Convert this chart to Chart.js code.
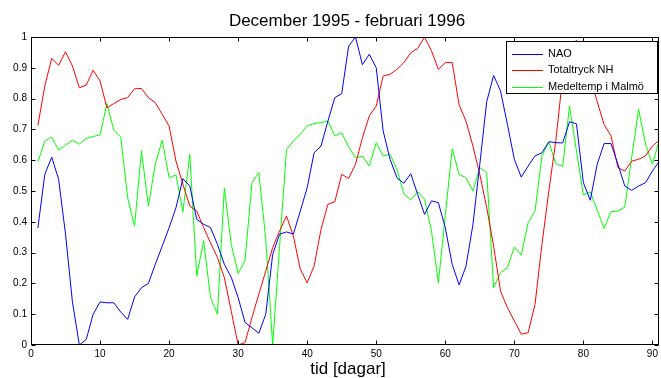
<!DOCTYPE html>
<html>
<head>
<meta charset="utf-8">
<script src="https://cdn.jsdelivr.net/npm/chart.js@4.4.1/dist/chart.umd.min.js"></script>
<style>
html, body { margin: 0; padding: 0; background: #fff; }
</style>
</head>
<body>
<canvas id="myChart" width="661" height="378"></canvas>
<script>
// dag 1..91 (dec 1995 - feb 1996)
const days = Array.from({ length: 91 }, (_, i) => i + 1);

const nao = [
  0.38, 0.554, 0.61, 0.538, 0.36, 0.14, 0.0, 0.018, 0.10, 0.14,
  0.137, 0.137, 0.107, 0.083, 0.156, 0.186, 0.2, 0.262, 0.321, 0.381,
  0.446, 0.54, 0.516, 0.408, 0.392, 0.381, 0.327, 0.262, 0.22, 0.154,
  0.073, 0.056, 0.038, 0.1, 0.294, 0.36, 0.367, 0.36, 0.435, 0.511,
  0.624, 0.646, 0.727, 0.803, 0.816, 0.97, 1.0, 0.91, 0.944, 0.9,
  0.695, 0.603, 0.543, 0.525, 0.556, 0.489, 0.424, 0.468, 0.462, 0.381,
  0.262, 0.195, 0.256, 0.39, 0.587, 0.79, 0.875, 0.825, 0.716, 0.603,
  0.545, 0.581, 0.614, 0.624, 0.66, 0.657, 0.656, 0.725, 0.718, 0.527,
  0.47, 0.587, 0.654, 0.654, 0.587, 0.516, 0.502, 0.516, 0.527, 0.565,
  0.597
];

const totaltryck = [
  0.713, 0.841, 0.931, 0.908, 0.952, 0.906, 0.835, 0.844, 0.892, 0.857,
  0.77, 0.784, 0.797, 0.803, 0.832, 0.833, 0.803, 0.787, 0.749, 0.711,
  0.597, 0.522, 0.451, 0.435, 0.381, 0.332, 0.284, 0.219, 0.11, 0.0,
  0.008, 0.089, 0.165, 0.24, 0.316, 0.37, 0.419, 0.354, 0.246, 0.202,
  0.256, 0.375, 0.457, 0.465, 0.554, 0.541, 0.587, 0.673, 0.744, 0.776,
  0.873, 0.879, 0.895, 0.917, 0.949, 0.963, 1.0, 0.955, 0.895, 0.917,
  0.917, 0.78, 0.727, 0.646, 0.554, 0.446, 0.321, 0.175, 0.121, 0.078,
  0.035, 0.04, 0.132, 0.327, 0.5, 0.662, 0.87, 0.96, 0.99, 0.93,
  0.87, 0.79, 0.716, 0.679, 0.576, 0.565, 0.597, 0.603, 0.614, 0.646,
  0.665
];

const medeltemp = [
  0.595, 0.662, 0.675, 0.633, 0.649, 0.665, 0.652, 0.671, 0.677, 0.682,
  0.784, 0.697, 0.675, 0.478, 0.386, 0.63, 0.451, 0.587, 0.665, 0.543,
  0.552, 0.432, 0.619, 0.224, 0.338, 0.154, 0.1, 0.509, 0.327, 0.232,
  0.275, 0.527, 0.56, 0.343, 0.0, 0.32, 0.634, 0.662, 0.684, 0.711,
  0.719, 0.722, 0.727, 0.679, 0.689, 0.643, 0.608, 0.613, 0.581, 0.657,
  0.614, 0.619, 0.57, 0.491, 0.471, 0.498, 0.473, 0.37, 0.202, 0.42,
  0.637, 0.554, 0.543, 0.5, 0.576, 0.56, 0.186, 0.235, 0.251, 0.318,
  0.292, 0.397, 0.435, 0.614, 0.659, 0.589, 0.58, 0.776, 0.63, 0.487,
  0.497, 0.438, 0.379, 0.433, 0.435, 0.448, 0.61, 0.765, 0.652, 0.587,
  0.665
];

const xTicks = [0, 10, 20, 30, 40, 50, 60, 70, 80, 90];
const yTicks = [0, 0.1, 0.2, 0.3, 0.4, 0.5, 0.6, 0.7, 0.8, 0.9, 1];

const FONT = '"Liberation Sans", Arial, sans-serif';

// matlab-ish frame, inward ticks, title, xlabel and legend box
const matlabAxes = {
  id: 'matlabAxes',
  afterDatasetsDraw(chart) {
    const ctx = chart.ctx;
    const a = chart.chartArea;
    const xs = chart.scales.x, ys = chart.scales.y;
    const L = Math.round(a.left) + 0.5, R = Math.round(a.right) - 0.5;
    const T = Math.round(a.top) + 0.5, B = Math.round(a.bottom) - 0.5;
    ctx.save();
    ctx.strokeStyle = '#000';
    ctx.lineWidth = 1;
    ctx.strokeRect(L, T, R - L, B - T);

    ctx.beginPath();
    xTicks.forEach(v => {
      const px = Math.round(xs.getPixelForValue(v)) + 0.5;
      ctx.moveTo(px, B); ctx.lineTo(px, B - 4);
      ctx.moveTo(px, T); ctx.lineTo(px, T + 4);
    });
    yTicks.forEach(v => {
      const py = Math.round(ys.getPixelForValue(v)) + 0.5;
      ctx.moveTo(L, py); ctx.lineTo(L + 4, py);
      ctx.moveTo(R, py); ctx.lineTo(R - 4, py);
    });
    ctx.stroke();

    // legend
    const lx = 506.5, ly = 41.5, lw = 151, lh = 52;
    ctx.fillStyle = '#fff';
    ctx.fillRect(lx, ly, lw, lh);
    ctx.strokeRect(lx, ly, lw, lh);
    ctx.font = '11px ' + FONT;
    ctx.textBaseline = 'middle';
    ctx.textAlign = 'left';
    chart.data.datasets.forEach((ds, i) => {
      const yy = 53.5 + i * 16.5;
      ctx.strokeStyle = ds.borderColor;
      ctx.beginPath();
      ctx.moveTo(512, Math.round(yy) + 0.5);
      ctx.lineTo(543, Math.round(yy) + 0.5);
      ctx.stroke();
      ctx.fillStyle = '#000';
      ctx.fillText(ds.label, 548, yy);
    });

    // title + xlabel
    ctx.fillStyle = '#000';
    ctx.textAlign = 'center';
    ctx.textBaseline = 'alphabetic';
    ctx.font = '17px ' + FONT;
    ctx.fillText('December 1995 - februari 1996', 347, 26);
    ctx.fillText('tid [dagar]', 348, 374);
    ctx.restore();
  }
};

const ctx = document.getElementById('myChart').getContext('2d');

const myChart = new Chart(ctx, {
  type: 'line',
  data: {
    labels: days,
    datasets: [
      { label: 'NAO', data: nao, borderColor: '#0000ff' },
      { label: 'Totaltryck NH', data: totaltryck, borderColor: '#ff0000' },
      { label: 'Medeltemp i Malmö', data: medeltemp, borderColor: '#00ff00' }
    ]
  },
  options: {
    responsive: false,
    animation: false,
    layout: { padding: { top: 37, right: 1, left: 0, bottom: 0 } },
    elements: {
      point: { radius: 0 },
      line: { borderWidth: 1, tension: 0, fill: false }
    },
    plugins: {
      legend: { display: false },
      title: { display: false },
      tooltip: { enabled: false }
    },
    scales: {
      x: {
        type: 'linear',
        min: 0,
        max: 91,
        grid: { display: false, drawTicks: false },
        border: { display: false },
        afterBuildTicks: s => { s.ticks = xTicks.map(v => ({ value: v })); },
        afterFit: s => { s.height = 33; },
        ticks: {
          padding: 3, maxRotation: 0, autoSkip: false, color: '#000',
          font: { family: FONT, size: 10 }
        }
      },
      y: {
        min: 0,
        max: 1,
        grid: { display: false, drawTicks: false },
        border: { display: false },
        afterBuildTicks: s => { s.ticks = yTicks.map(v => ({ value: v })); },
        afterFit: s => { s.width = 31; },
        ticks: {
          padding: 4, color: '#000',
          font: { family: FONT, size: 10 },
          callback: v => String(Math.round(v * 10) / 10)
        }
      }
    }
  },
  plugins: [matlabAxes]
});
</script>
</body>
</html>
